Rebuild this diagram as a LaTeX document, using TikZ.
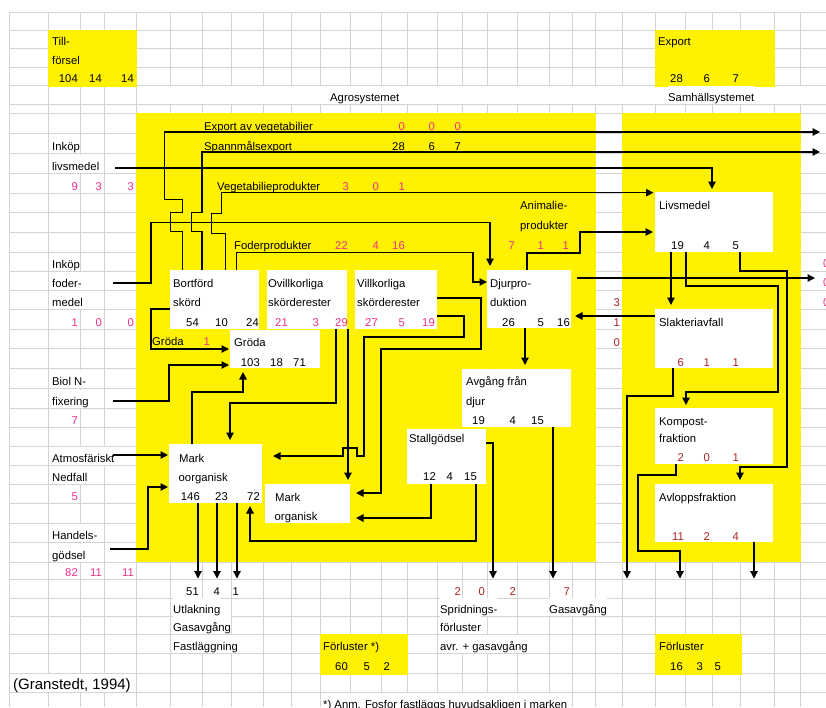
\documentclass[tikz,border=0pt]{standalone}
\usepackage{fontspec}
\setmainfont{Liberation Sans}
\usetikzlibrary{arrows.meta}
\definecolor{yel}{RGB}{255,242,0}
\definecolor{pk}{RGB}{240,45,140}
\definecolor{dr}{RGB}{170,35,35}
\definecolor{grd}{RGB}{212,212,212}
\newcommand\fs{\fontsize{11.3}{13}\selectfont}
\begin{document}
\begin{tikzpicture}[x=1pt,y=-1pt,
  lbl/.style={anchor=base west, inner sep=0pt, font=\fs},
  num/.style={anchor=base east, inner sep=0pt, font=\fs},
  cov/.style={fill=white, text height=15.5pt, text depth=2.5pt},
  wbox/.style={fill=white, inner sep=0pt, outer sep=0pt, anchor=north west},
  ybox/.style={fill=yel, inner sep=0pt, outer sep=0pt, anchor=north west},
  gl/.style={grd, line width=0.8pt},
  conn/.style={line width=1.2pt, -{Triangle[length=7.5pt,width=7.5pt]}}]
\useasboundingbox (0,0) rectangle (826,707);
\fill[white] (0,0) rectangle (826,707);
% grid
\foreach \y in {12,30,48,67,85,104,113,133,153,173,193,212,232,252,271,290,309,329,348,368,388,408,427,446,465,484,503,523,542,562,579,598,616,634,653,673,692}
  \draw[gl] (9,\y) -- (826,\y);
\foreach \x in {9,48,80,104,136}
  \draw[gl] (\x,12) -- (\x,707);
\foreach \x in {170,202,231,263,291,320,350,381,407,437,462,487,517,549,572,595,622,655,685,712,740,774,800}
  {\draw[gl] (\x,12) -- (\x,85); \draw[gl] (\x,104) -- (\x,707);}
% yellow areas
\node[ybox,minimum width=89pt,minimum height=56.5pt] (till) at (48,30) {};
\node[ybox,minimum width=120pt,minimum height=56.5pt] (expo) at (655,30) {};
\node[ybox,minimum width=460pt,minimum height=449pt] (agroarea) at (136,113) {};
\node[ybox,minimum width=179pt,minimum height=449pt] (samharea) at (622,113) {};
\node[ybox,minimum width=88pt,minimum height=41pt] (forl1) at (320,634) {};
\node[ybox,minimum width=87pt,minimum height=41pt] (forl2) at (655,634) {};
% white boxes
\node[wbox,minimum width=89pt,minimum height=59pt] (bort) at (170,270) {};
\node[wbox,minimum width=80pt,minimum height=59pt] (ovill) at (267,270) {};
\node[wbox,minimum width=82pt,minimum height=59pt] (vill) at (355,270) {};
\node[wbox,minimum width=90pt,minimum height=38pt] (groda) at (230,330) {};
\node[wbox,minimum width=84pt,minimum height=58pt] (djur) at (487,270) {};
\node[wbox,minimum width=109pt,minimum height=58pt] (avg) at (462,369) {};
\node[wbox,minimum width=79pt,minimum height=55pt] (stall) at (407,429) {};
\node[wbox,minimum width=93pt,minimum height=59pt] (mo) at (169,444) {};
\node[wbox,minimum width=85pt,minimum height=39pt] (morg) at (265,484) {};
\node[wbox,minimum width=118pt,minimum height=60pt] (livs) at (655,192) {};
\node[wbox,minimum width=118pt,minimum height=59pt] (slak) at (655,309) {};
\node[wbox,minimum width=118pt,minimum height=56pt] (komp) at (655,408) {};
\node[wbox,minimum width=118pt,minimum height=58pt] (avl) at (655,484) {};
% top texts
\node[lbl] (a1) at (52,45.5) {Till-};
\node[lbl] (a2) at (52,64.5) {försel};
\node[num] (a3) at (78,82.5) {104};
\node[num] (a4) at (102,82.5) {14};
\node[num] (a5) at (134,82.5) {14};
\node[lbl] (b1) at (658,45.5) {Export};
\node[num] (b2) at (683,82.5) {28};
\node[num] (b3) at (710,82.5) {6};
\node[num] (b4) at (739,82.5) {7};
\node[lbl,cov] (agrot) at (330,101.5) {Agrosystemet};
\node[lbl,cov] (samht) at (668,101.5) {Samhällsystemet};
% labels inside agro
\node[lbl] (c1) at (204,130.5) {Export av vegetabilier};
\node[num,pk] (c2) at (405,130.5) {0};
\node[num,pk] (c3) at (435,130.5) {0};
\node[num,pk] (c4) at (461,130.5) {0};
\node[lbl] (d1) at (204,150.5) {Spannmålsexport};
\node[num] (d2) at (405,150.5) {28};
\node[num] (d3) at (435,150.5) {6};
\node[num] (d4) at (461,150.5) {7};
\node[lbl] (f1) at (217,190) {Vegetabilieprodukter};
\node[num,pk] (f2) at (349,190) {3};
\node[num,pk] (f3) at (379,190) {0};
\node[num,pk] (f4) at (405,190) {1};
\node[lbl] (g1) at (234,249.5) {Foderprodukter};
\node[num,pk] (g2) at (348,249.5) {22};
\node[num,pk] (g3) at (379,249.5) {4};
\node[num,pk] (g4) at (405,249.5) {16};
\node[lbl] (h1) at (520,209.5) {Animalie-};
\node[lbl] (h2) at (520,229) {produkter};
\node[num,pk] (h3) at (515,249.5) {7};
\node[num,pk] (h4) at (544,249.5) {1};
\node[num,pk] (h5) at (569,249.5) {1};
% left inputs
\node[lbl,cov] (i1) at (52,150.5) {Inköp};
\node[lbl,cov] (i2) at (52,170.5) {livsmedel};
\node[num,pk] (i3) at (78,190) {9};
\node[num,pk] (i4) at (102,190) {3};
\node[num,pk] (i5) at (134,190) {3};
\node[lbl,cov] (j1) at (52,268.5) {Inköp};
\node[lbl,cov] (j2) at (52,287.5) {foder-};
\node[lbl,cov] (j3) at (52,306.5) {medel};
\node[num,pk] (j4) at (78,326.5) {1};
\node[num,pk] (j5) at (102,326.5) {0};
\node[num,pk] (j6) at (134,326.5) {0};
\node[lbl,cov] (k1) at (52,385.5) {Biol N-};
\node[lbl,cov] (k2) at (52,405.5) {fixering};
\node[num,pk] (k3) at (78,424.5) {7};
\node[lbl,cov] (l1) at (52,462) {Atmosfäriskt};
\node[lbl,cov] (l2) at (52,481.5) {Nedfall};
\node[num,pk] (l3) at (78,500.5) {5};
\node[lbl,cov] (m1) at (52,539.5) {Handels-};
\node[lbl,cov] (m2) at (52,559.5) {gödsel};
\node[num,pk] (m3) at (78,576.5) {82};
\node[num,pk] (m4) at (102,576.5) {11};
\node[num,pk] (m5) at (134,576.5) {11};
% box texts
\node[lbl] (n1) at (173,287.5) {Bortförd};
\node[lbl] (n2) at (173,306.5) {skörd};
\node[num] (n3) at (199,326.5) {54};
\node[num] (n4) at (228,326.5) {10};
\node[num] (n5) at (259,326.5) {24};
\node[lbl] (o1) at (268,287.5) {Ovillkorliga};
\node[lbl] (o2) at (268,306.5) {skörderester};
\node[num,pk] (o3) at (288,326.5) {21};
\node[num,pk] (o4) at (319,326.5) {3};
\node[num,pk] (o5) at (348,326.5) {29};
\node[lbl] (p1) at (357,287.5) {Villkorliga};
\node[lbl] (p2) at (357,306.5) {skörderester};
\node[num,pk] (p3) at (378,326.5) {27};
\node[num,pk] (p4) at (405,326.5) {5};
\node[num,pk] (p5) at (435,326.5) {19};
\node[lbl] (q1) at (490,287.5) {Djurpro-};
\node[lbl] (q2) at (490,306.5) {duktion};
\node[num] (q3) at (515,326.5) {26};
\node[num] (q4) at (544,326.5) {5};
\node[num] (q5) at (570,326.5) {16};
\node[lbl] (r1) at (152,345.5) {Gröda};
\node[num,pk] (r2) at (210,345.5) {1};
\node[lbl] (r3) at (234,346) {Gröda};
\node[num] (r4) at (260,366) {103};
\node[num] (r5) at (283,366) {18};
\node[num] (r6) at (306,366) {71};
\node[lbl] (s1) at (659,209.5) {Livsmedel};
\node[num] (s2) at (684,249.5) {19};
\node[num] (s3) at (710,249.5) {4};
\node[num] (s4) at (739,249.5) {5};
\node[lbl] (s5) at (659,326.5) {Slakteriavfall};
\node[num,dr] (s6) at (684,366) {6};
\node[num,dr] (s7) at (710,366) {1};
\node[num,dr] (s8) at (739,366) {1};
\node[lbl] (u1) at (659,425) {Kompost-};
\node[lbl] (u2) at (659,442) {fraktion};
\node[num,dr] (u3) at (684,461.5) {2};
\node[num,dr] (u4) at (710,461.5) {0};
\node[num,dr] (u5) at (739,461.5) {1};
\node[lbl] (v1) at (659,501) {Avloppsfraktion};
\node[num,dr] (v2) at (684,540) {11};
\node[num,dr] (v3) at (710,540) {2};
\node[num,dr] (v4) at (739,540) {4};
\node[lbl] (w1) at (466,385.5) {Avgång från};
\node[lbl] (w2) at (466,405.5) {djur};
\node[num] (w3) at (485,424) {19};
\node[num] (w4) at (516,424) {4};
\node[num] (w5) at (544,424) {15};
\node[lbl] (x1) at (409,442) {Stallgödsel};
\node[num] (x2) at (436,480.5) {12};
\node[num] (x3) at (453,480.5) {4};
\node[num] (x4) at (477,480.5) {15};
\node[lbl] (y1) at (179,462) {Mark};
\node[lbl] (y2) at (178.5,481.5) {oorganisk};
\node[num] (y3) at (200,500.5) {146};
\node[num] (y4) at (228,500.5) {23};
\node[num] (y5) at (260,500.5) {72};
\node[lbl] (z1) at (275,501) {Mark};
\node[lbl] (z2) at (274.5,520.5) {organisk};
% side numbers
\node[num,dr] (sa) at (620,306) {3};
\node[num,dr] (sb) at (620,326.5) {1};
\node[num,dr] (sc) at (620,346) {0};
\node[lbl,pk] (ra) at (823,267) {0};
\node[lbl,pk] (rb) at (823,286.5) {0};
\node[lbl,pk] (rc) at (823,306) {0};
% bottom
\node[num] (bb1) at (199,595.5) {51};
\node[num] (bb2) at (220,595.5) {4};
\node[num] (bb3) at (239,595.5) {1};
\node[lbl,cov] (bb4) at (173,613.5) {Utlakning};
\node[lbl,cov] (bb5) at (173,631.5) {Gasavgång};
\node[lbl,cov] (bb6) at (173,650.5) {Fastläggning};
\node[num,dr] (cc1) at (461,595.5) {2};
\node[num,dr] (cc2) at (485,595.5) {0};
\node[num,dr] (cc3) at (516,595.5) {2};
\node[lbl,cov] (cc4) at (440,613.5) {Spridnings-};
\node[lbl,cov] (cc5) at (440,631.5) {förluster};
\node[lbl,cov] (cc6) at (440,650.5) {avr. + gasavgång};
\node[num,dr] (dd1) at (570,595.5) {7};
\node[lbl,cov] (dd2) at (549,613.5) {Gasavgång};
\node[lbl] (ee1) at (323,650.5) {Förluster *)};
\node[num] (ee2) at (348,670.5) {60};
\node[num] (ee3) at (370,670.5) {5};
\node[num] (ee4) at (390,670.5) {2};
\node[lbl] (ff1) at (659,650.5) {Förluster};
\node[num] (ff2) at (683,670.5) {16};
\node[num] (ff3) at (703,670.5) {3};
\node[num] (ff4) at (721,670.5) {5};
\node[lbl,cov,font=\fontsize{15}{17}\selectfont] (gg1) at (13,689.5) {(Granstedt, 1994)};
\node[lbl,cov] (gg2) at (323,708) {*) Anm. Fosfor fastläggs huvudsakligen i marken};
% free ends
\coordinate (exA) at (820,132);
\coordinate (exB) at (820,152);
\coordinate (djo) at (577,278);
\coordinate (djR) at (815,278);
\coordinate (inL) at (115,168);
\coordinate (inF) at (113,283);
\coordinate (bio) at (113,401);
\coordinate (atm) at (113,455);
\coordinate (han) at (110,549);
\coordinate (oA) at (198,578.5);
\coordinate (oB) at (217,578.5);
\coordinate (oC) at (237,578.5);
\coordinate (sp) at (493,578.5);
\coordinate (gas) at (553,578.5);
\coordinate (sl) at (627,578.5);
\coordinate (ko) at (680,578.5);
\coordinate (av) at (754,578.5);
% connectors
\draw[conn] (182.5,0 |- bort.north) -- (182.5,231.7) -- (170.7,231.7) -- (170.7,212.7) -- (182.5,212.7) -- (182.5,199.3) -- (164.3,199.3) -- (164.3,132) -- (exA);
\draw[conn] (202,0 |- bort.north) -- (202,231.7) -- (191.7,231.7) -- (191.7,212.3) -- (202,212.3) -- (202,152) -- (exB);
\draw[conn,shorten >=1.5pt] (225.7,0 |- bort.north) -- (225.7,233.3) -- (211.7,233.3) -- (211.7,213.3) -- (221.7,213.3) -- (221.7,192.7) -- (livs.west |- 0,192.7);
\draw[conn,shorten >=3pt] (inL) -- (712,168) -- (712,0 |- livs.north);
\draw[conn,shorten >=4pt] (inF) -- (151,283) -- (151,222.7) -- (490,222.7) -- (490,0 |- djur.north);
\draw[conn] (236.7,0 |- bort.north) -- (236.7,252.3) -- (473,252.3) -- (473,282) -- (djur.west |- 0,282);
\draw[conn,shorten >=2pt] (527,0 |- djur.north) -- (527,253) -- (580,253) -- (580,232) -- (livs.west |- 0,232);
\draw[conn] (djo) -- (djR);
\draw[conn,shorten >=4pt] (slak.west |- 0,316) -- (djur.east |- 0,316);
\draw[conn,shorten >=4pt] (671,0 |- livs.south) -- (671,0 |- slak.north);
\draw[conn,shorten >=3pt] (686,0 |- livs.south) -- (686,286) -- (778,286) -- (778,392) -- (686,392) -- (686,0 |- komp.north);
\draw[conn,shorten >=4pt] (740,0 |- livs.south) -- (740,271) -- (787,271) -- (787,467) -- (740,467) -- (740,0 |- avl.north);
\draw[conn] (673,0 |- slak.south) -- (673,396) -- (627,396) -- (sl);
\draw[conn] (676,0 |- komp.south) -- (676,475) -- (638,475) -- (638,551) -- (680,551) -- (ko);
\draw[conn] (754,0 |- avl.south) -- (av);
\draw[conn] (553,0 |- avg.south) -- (gas);
\draw[conn,shorten >=4pt] (525,0 |- djur.south) -- (525,0 |- avg.north);
\draw[conn] (stall.east |- 0,443) -- (493,443) -- (sp);
\draw[conn,shorten >=6pt] (431,0 |- stall.south) -- (431,518) -- (morg.east |- 0,518);
\draw[conn,shorten >=3pt] (476,0 |- stall.south) -- (476,541) -- (250,541) -- (250,0 |- mo.south);
\draw[conn,shorten >=4pt] (336,0 |- ovill.south) -- (336,403) -- (230,403) -- (230,0 |- mo.north);
\draw[conn,shorten >=4pt] (348,0 |- ovill.south) -- (348,0 |- morg.north);
\draw[conn,shorten >=6pt] (vill.east |- 0,298) -- (481,298) -- (481,349) -- (381,349) -- (381,493) -- (morg.east |- 0,493);
\draw[conn,shorten >=11pt] (vill.east |- 0,316) -- (464,316) -- (464,337) -- (364,337) -- (364,456) -- (357,456) -- (357,448) -- (343,448) -- (343,456) -- (mo.east |- 0,456);
\draw[conn] (198,0 |- mo.south) -- (oA);
\draw[conn] (217,0 |- mo.south) -- (oB);
\draw[conn] (237,0 |- mo.south) -- (oC);
\draw[conn,shorten >=4pt] (192,0 |- mo.north) -- (192,392) -- (243,392) -- (243,0 |- groda.south);
\draw[conn,shorten >=1pt] (bort.west |- 0,309) -- (151,309) -- (151,349) -- (groda.west |- 0,349);
\draw[conn,shorten >=1pt] (bio) -- (169,401) -- (169,365) -- (groda.west |- 0,365);
\draw[conn,shorten >=1pt] (atm) -- (mo.west |- 0,455);
\draw[conn,shorten >=1pt] (han) -- (148,549) -- (148,487) -- (mo.west |- 0,487);
\end{tikzpicture}
\end{document}
